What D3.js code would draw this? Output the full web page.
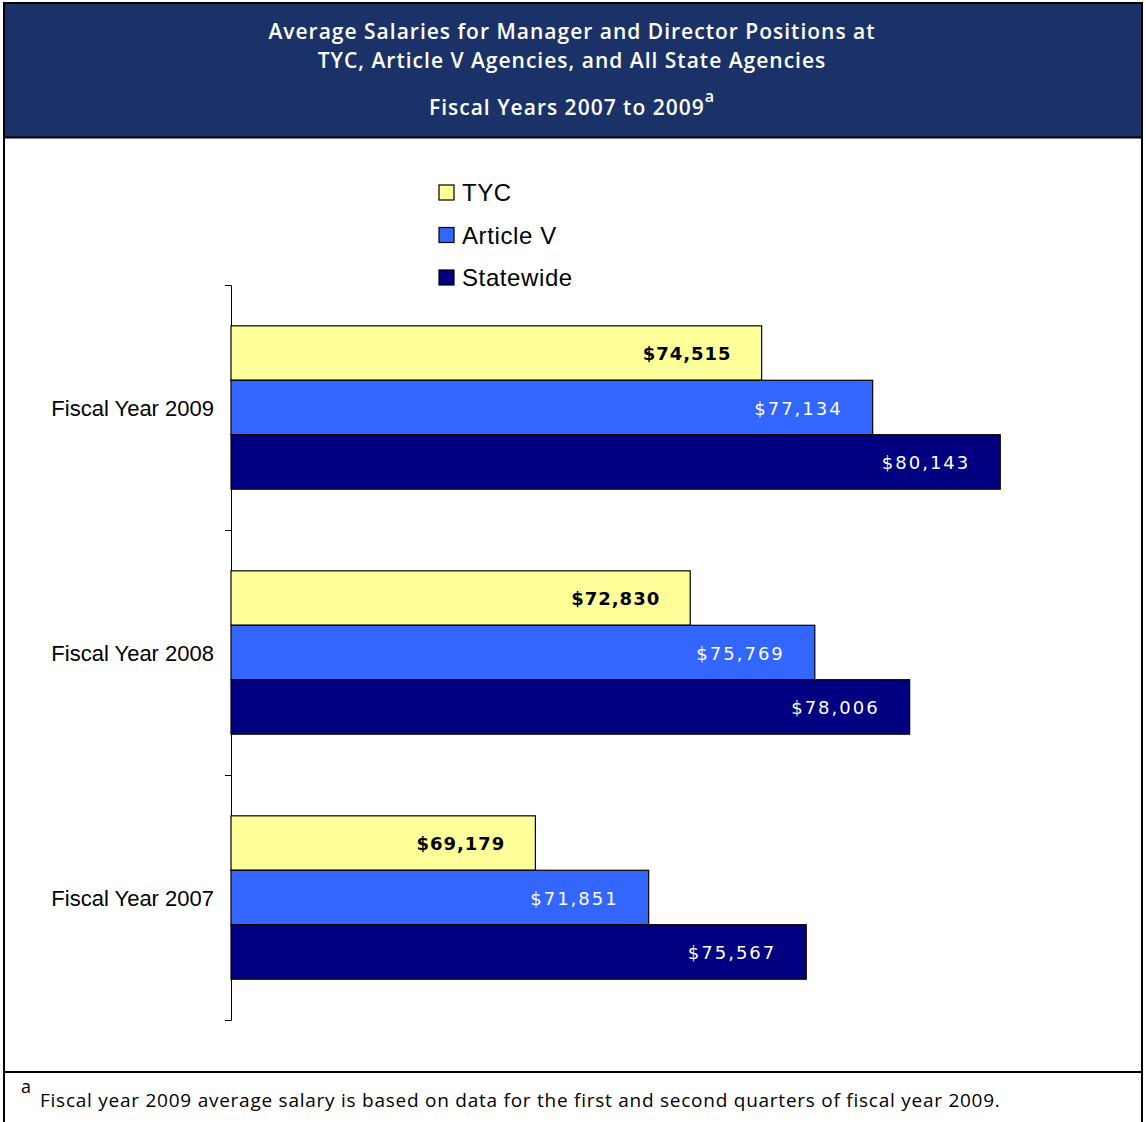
<!DOCTYPE html>
<html>
<head>
<meta charset="utf-8">
<script src="https://cdn.jsdelivr.net/npm/d3@7"></script>
<style>
  body { margin: 0; background: #fff; }
  svg { display: block; }
</style>
</head>
<body>
<script>
var categories = ["Fiscal Year 2009", "Fiscal Year 2008", "Fiscal Year 2007"];
var seriesNames = ["TYC", "Article V", "Statewide"];
var tyc = [74515, 72830, 69179];
var articleV = [77134, 75769, 71851];
var statewide = [80143, 78006, 75567];
var colors = ["#ffff99", "#3366ff", "#000080"];
var labelColors = ["#000", "#fff", "#fff"];

var W = 1146, H = 1122;
var svg = d3.select("body").append("svg")
    .attr("width", W)
    .attr("height", H);

// header band
svg.append("rect")
    .attr("x", 4).attr("y", 4)
    .attr("width", 1138).attr("height", 133)
    .attr("fill", "#1b3268");
svg.append("line")
    .attr("x1", 4).attr("x2", 1142)
    .attr("y1", 137.5).attr("y2", 137.5)
    .attr("stroke", "#000").attr("stroke-width", 2);

var title = svg.append("g")
    .attr("font-family", "'Open Sans', sans-serif")
    .attr("font-weight", 600)
    .attr("font-size", 21)
    .attr("letter-spacing", 1)
    .attr("fill", "#fff")
    .attr("text-anchor", "middle");
title.append("text").attr("x", 572).attr("y", 39)
    .text("Average Salaries for Manager and Director Positions at");
title.append("text").attr("x", 572).attr("y", 68)
    .text("TYC, Article V Agencies, and All State Agencies");
var t3 = title.append("text").attr("x", 572).attr("y", 115);
t3.append("tspan").text("Fiscal Years 2007 to 2009");
t3.append("tspan").attr("dy", -13).attr("font-size", 16).text("a");

// outer border and footnote divider
svg.append("rect")
    .attr("x", 4).attr("y", 3)
    .attr("width", 1138).attr("height", 1125)
    .attr("fill", "none").attr("stroke", "#000").attr("stroke-width", 2);
svg.append("line")
    .attr("x1", 4).attr("x2", 1142)
    .attr("y1", 1072).attr("y2", 1072)
    .attr("stroke", "#000").attr("stroke-width", 2);

var foot = svg.append("text")
    .attr("font-family", "'Open Sans', sans-serif")
    .attr("font-size", 19)
    .attr("fill", "#000");
foot.append("tspan").attr("x", 21).attr("y", 1093).attr("font-size", 18).text("a");
foot.append("tspan").attr("x", 40).attr("y", 1107)
    .attr("letter-spacing", 0.75)
    .text("Fiscal year 2009 average salary is based on data for the first and second quarters of fiscal year 2009.");

// plot
var x = d3.scaleLinear()
    .domain([62000, 82000])
    .range([231, 1079]);

var y = d3.scaleBand()
    .domain(categories)
    .range([285, 1020])
    .paddingInner(0)
    .paddingOuter(0);

var ySub = d3.scaleBand()
    .domain(seriesNames)
    .range([0, y.bandwidth()])
    .paddingOuter(0.75);

var values = [tyc, articleV, statewide];

var yAxis = svg.append("g")
    .attr("transform", "translate(231,0)")
    .call(d3.axisLeft(y).tickSize(0).tickFormat(""));
yAxis.select(".domain").attr("stroke", "#000").attr("d", "M-5,285.5H0.5V1020.5H-5");
// boundary tick marks
var edges = [285, 530, 775, 1020];
svg.selectAll(".edge").data(edges).enter().append("line")
    .attr("x1", 225).attr("x2", 231)
    .attr("y1", function(d) { return d + 0.5; })
    .attr("y2", function(d) { return d + 0.5; })
    .attr("stroke", "#000");

svg.selectAll(".cat").data(categories).enter().append("text")
    .attr("x", 214)
    .attr("y", function(d) { return y(d) + y.bandwidth() / 2 + 8; })
    .attr("text-anchor", "end")
    .attr("font-family", "'Liberation Sans', Arial, sans-serif")
    .attr("font-size", 22)
    .attr("fill", "#000")
    .text(function(d) { return d; });

var fmt = d3.format("$,");

seriesNames.forEach(function(s, si) {
  var g = svg.append("g");
  g.selectAll("rect").data(categories).enter().append("rect")
      .attr("x", x(62000))
      .attr("y", function(d) { return y(d) + ySub(s); })
      .attr("width", function(d, i) { return x(values[si][i]) - x(62000); })
      .attr("height", ySub.bandwidth())
      .attr("fill", colors[si])
      .attr("stroke", "#000")
      .attr("stroke-width", 1.2);
  g.selectAll("text").data(categories).enter().append("text")
      .attr("x", function(d, i) { return x(values[si][i]) - 30; })
      .attr("y", function(d) { return y(d) + ySub(s) + ySub.bandwidth() / 2 + 7; })
      .attr("text-anchor", "end")
      .attr("font-family", "'DejaVu Sans', sans-serif")
      .attr("font-size", 18)
      .attr("letter-spacing", si === 0 ? 1 : 2)
      .attr("font-weight", si === 0 ? "bold" : "normal")
      .attr("fill", labelColors[si])
      .text(function(d, i) { return fmt(values[si][i]); });
});

// legend
var leg = svg.append("g");
seriesNames.forEach(function(s, i) {
  var ly = 193 + i * 42.5;
  leg.append("rect")
      .attr("x", 439).attr("y", ly - 8)
      .attr("width", 15).attr("height", 15)
      .attr("fill", colors[i])
      .attr("stroke", "#000").attr("stroke-width", 1.2);
  leg.append("text")
      .attr("x", 462).attr("y", ly + 8)
      .attr("font-family", "'Liberation Sans', Arial, sans-serif")
      .attr("font-size", 24)
      .attr("letter-spacing", 0.6)
      .attr("fill", "#000")
      .text(s);
});
</script>
</body>
</html>
